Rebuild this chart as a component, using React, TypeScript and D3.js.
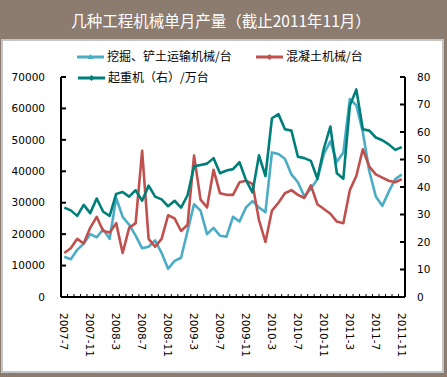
import React from "react";
import * as d3 from "d3";

const months = [
  "2007-7","2007-8","2007-9","2007-10","2007-11","2007-12",
  "2008-1","2008-2","2008-3","2008-4","2008-5","2008-6","2008-7","2008-8","2008-9","2008-10","2008-11","2008-12",
  "2009-1","2009-2","2009-3","2009-4","2009-5","2009-6","2009-7","2009-8","2009-9","2009-10","2009-11","2009-12",
  "2010-1","2010-2","2010-3","2010-4","2010-5","2010-6","2010-7","2010-8","2010-9","2010-10","2010-11","2010-12",
  "2011-1","2011-2","2011-3","2011-4","2011-5","2011-6","2011-7","2011-8","2011-9","2011-10","2011-11",
];

const excavator = [
  12800, 12000, 15000, 17000, 20000, 19000,
  21500, 18500, 31500, 25500, 23000, 19500, 15500, 16000, 18000, 14000, 9000, 11500,
  12500, 21000, 29500, 27500, 20000, 22000, 19500, 19200, 25500, 24000, 28500, 30500,
  28500, 27000, 46000, 45500, 44000, 39000, 36500, 32000, 34500, 37500, 45500, 49500,
  43000, 46000, 63000, 61000, 52500, 40000, 32000, 29000, 33500, 37500, 39000,
];

const concrete = [
  14000, 15500, 18500, 17000, 22000, 25500,
  21000, 20500, 23500, 14000, 22000, 23500, 46500, 18500, 16000, 18500, 26000, 25000,
  21000, 23000, 45000, 31000, 28500, 40500, 33000, 32500, 32500, 36500, 37000, 36000,
  24500, 17500, 27500, 30000, 33000, 34000, 32500, 31500, 35500, 29500, 28000, 26500,
  24000, 23500, 34000, 38500, 47000, 41500, 39000, 38000, 37000, 36500, 37500,
];

const crane = [
  32.5, 31.5, 29.5, 33.5, 30.5, 35.8,
  31, 29.5, 37.5, 38.2, 36.5, 38.8, 35, 40.5, 36.5, 35.5, 33, 35,
  32.5, 37, 47.5, 48, 48.5, 50.5, 45, 46, 46.5, 49, 42.5, 38,
  51.5, 44, 65, 66.5, 61, 60.5, 51, 50.5, 49.5, 43, 54, 62,
  45, 43, 69.5, 75.5, 61, 60.5, 58, 57, 55.5, 53.5, 54.5,
];

const leftTicks = [0, 10000, 20000, 30000, 40000, 50000, 60000, 70000];
const rightTicks = [0, 10, 20, 30, 40, 50, 60, 70, 80];

const title = "几种工程机械单月产量（截止2011年11月）";
const seriesNames = ["挖掘、铲土运输机械/台", "混凝土机械/台", "起重机（右）/万台"];

const W = 447, H = 377;
const L = 61, R = 405, T = 77, B = 297;
const BLUE = "#4BACC6", RED = "#C0504D", TEAL = "#007F7A";
const NUM_FONT = "'DejaVu Sans', Verdana, sans-serif";
const CJK_FONT = "'Noto Sans CJK SC', sans-serif";

export default function App() {
  const x = d3.scaleBand<string>().domain(months).range([L, R]).padding(0);
  const bw = x.bandwidth();
  const cx = (m: string) => (x(m) as number) + bw / 2;
  const yL = d3.scaleLinear().domain([0, 70000]).range([B, T]);
  const yR = d3.scaleLinear().domain([0, 80]).range([B, T]);

  const lineL = d3.line<number>().x((_, i) => cx(months[i])).y((d) => yL(d));
  const lineR = d3.line<number>().x((_, i) => cx(months[i])).y((d) => yR(d));

  const legendItem = (lx: number, ly: number, color: string, label: string, marker: string) => (
    <g key={label}>
      <line x1={lx} x2={lx + 27} y1={ly} y2={ly} stroke={color} strokeWidth={3} />
      {marker === "tri" ? (
        <path d={`M${lx + 13.5},${ly - 3} L${lx + 16.5},${ly + 2} L${lx + 10.5},${ly + 2} Z`} fill={color} />
      ) : (
        <path d={`M${lx + 13.5},${ly - 3} L${lx + 16.5},${ly} L${lx + 13.5},${ly + 3} L${lx + 10.5},${ly} Z`} fill={color} />
      )}
      <text x={lx + 30} y={ly} dy="0.36em" fontSize={12} fontFamily={CJK_FONT} fill="#000">
        {label}
      </text>
    </g>
  );

  return (
    <svg width={W} height={H} style={{ position: "absolute", left: 0, top: 0 }}>
      <rect x={0} y={0} width={W} height={H} fill="#8C7B6F" />
      <rect x={2} y={40} width={441} height={332} fill="#fff" stroke="#C4C4C4" strokeWidth={2} />
      <text x={221} y={21} dy="0.36em" textAnchor="middle" fill="#fff" fontSize={15.5} fontFamily={CJK_FONT}>
        {title}
      </text>

      {/* series */}
      <path d={lineL(excavator) || ""} fill="none" stroke={BLUE} strokeWidth={2.6} strokeLinejoin="round" />
      <path d={lineL(concrete) || ""} fill="none" stroke={RED} strokeWidth={2.6} strokeLinejoin="round" />
      <path d={lineR(crane) || ""} fill="none" stroke={TEAL} strokeWidth={2.6} strokeLinejoin="round" />

      {/* axes */}
      <line x1={L} x2={L} y1={T} y2={B} stroke="#000" strokeWidth={2} />
      <line x1={R} x2={R} y1={T} y2={B} stroke="#000" strokeWidth={2} />
      <line x1={L} x2={R} y1={B} y2={B} stroke="#000" strokeWidth={2} />
      {leftTicks.map((t) => (
        <g key={"l" + t}>
          <line x1={L} x2={L + 5} y1={yL(t)} y2={yL(t)} stroke="#000" strokeWidth={2} />
          <text x={45} y={yL(t)} dy="0.36em" textAnchor="end" fontSize={10.5} fontFamily={NUM_FONT} fill="#000">
            {t}
          </text>
        </g>
      ))}
      {rightTicks.map((t) => (
        <g key={"r" + t}>
          <line x1={R - 5} x2={R} y1={yR(t)} y2={yR(t)} stroke="#000" strokeWidth={2} />
          <text x={417} y={yR(t)} dy="0.36em" textAnchor="start" fontSize={10.5} fontFamily={NUM_FONT} fill="#000">
            {t}
          </text>
        </g>
      ))}
      {months.map((m, i) => (
        <line key={"xt" + i} x1={(x(m) as number)} x2={(x(m) as number)} y1={B} y2={B - 3} stroke="#000" strokeWidth={1} />
      ))}
      {months.map((m, i) =>
        i % 4 === 0 ? (
          <text
            key={"xl" + m}
            transform={`translate(${cx(m)},313) rotate(90)`}
            dy="0.36em"
            fontSize={10.5}
            fontFamily={NUM_FONT}
            fill="#000"
          >
            {m}
          </text>
        ) : null
      )}

      {/* legend */}
      {legendItem(77, 57, BLUE, seriesNames[0], "tri")}
      {legendItem(256, 57, RED, seriesNames[1], "dia")}
      {legendItem(78, 78, TEAL, seriesNames[2], "dia")}
    </svg>
  );
}
